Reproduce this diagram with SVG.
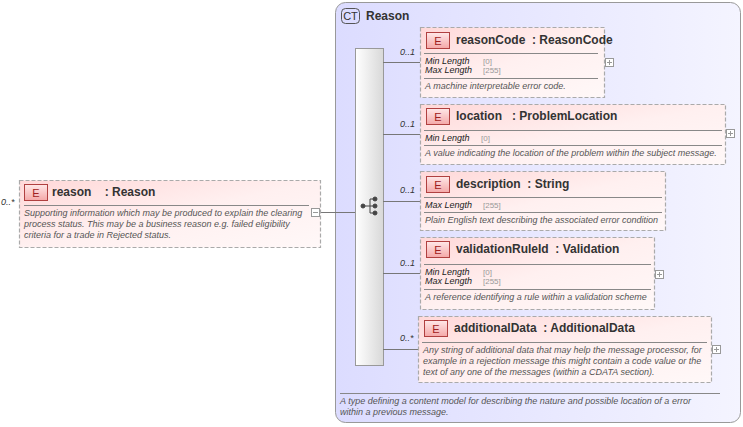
<svg xmlns="http://www.w3.org/2000/svg" width="743" height="427" viewBox="0 0 743 427">
<defs>
<linearGradient id="eg" x1="0" y1="0" x2="1" y2="1"><stop offset="0" stop-color="#ffd8d8"/><stop offset="0.5" stop-color="#fff0f0"/><stop offset="1" stop-color="#fff8f8"/></linearGradient>
<linearGradient id="ctg" x1="0" y1="0" x2="1" y2="0"><stop offset="0" stop-color="#dcdcff"/><stop offset="1" stop-color="#f4f4ff"/></linearGradient>
<linearGradient id="sg" x1="0" y1="0" x2="1" y2="0"><stop offset="0" stop-color="#ffffff"/><stop offset="1" stop-color="#d8d8d8"/></linearGradient>
<linearGradient id="bg" x1="0" y1="0" x2="0" y2="1"><stop offset="0" stop-color="#ffe8e8"/><stop offset="1" stop-color="#f4a8a8"/></linearGradient>
</defs>
<style>
text{font-family:"Liberation Sans",Arial,sans-serif;fill:#333}
.el{fill:url(#eg);stroke:#aaa;stroke-dasharray:4 2;stroke-width:1.2}
.badge{fill:url(#bg);stroke:#b04040;stroke-width:1}
.bt{font-size:11px;fill:#a02020;text-anchor:middle}
.ti{font-size:12px;font-weight:bold;fill:#333;white-space:pre}
.sep{stroke:#888;stroke-width:1}
.fl{font-size:9px;font-style:italic;fill:#222}
.fv{font-size:8px;fill:#999}
.ds{font-size:9px;font-style:italic;fill:#555}
.card{font-size:9px;font-style:italic;fill:#333}
.pl{fill:#fff;stroke:#999;stroke-width:1}
.cn{stroke:#777;stroke-width:1;fill:none}
</style>
<g id="ct-reason">
<rect x="335.5" y="2.5" width="405" height="420" rx="10" fill="url(#ctg)" stroke="#999"/>
<rect x="341.5" y="8.5" width="18" height="15" rx="4" fill="#dcdcff" stroke="#555"/>
<text x="350.5" y="20" font-size="11" text-anchor="middle" fill="#333">CT</text>
<text x="366" y="20" class="ti">Reason</text>
<line x1="340" y1="393.5" x2="720" y2="393.5" class="sep"/>
<text x="340" y="404" class="ds">A type defining a content model for describing the nature and possible location of a error</text>
<text x="340" y="415" class="ds">within a previous message.</text>
</g>
<g id="sequence">
<rect x="355.5" y="48.5" width="28" height="317" fill="url(#sg)" stroke="#999"/>
<g fill="#444" stroke="#444">
<line x1="362" y1="206" x2="370" y2="206"/><line x1="370" y1="199" x2="370" y2="213"/>
<line x1="370" y1="199" x2="375" y2="199"/><line x1="370" y1="206" x2="375" y2="206"/><line x1="370" y1="213" x2="375" y2="213"/>
<circle cx="363" cy="206" r="2"/><circle cx="375" cy="199" r="2"/><circle cx="375" cy="206" r="2"/><circle cx="375" cy="213" r="2"/>
</g>
</g>
<g id="connectors">
<line x1="320" y1="212.5" x2="355" y2="212.5" class="cn"/>
<line x1="383" y1="62.5" x2="420" y2="62.5" class="cn"/>
<line x1="383" y1="134.5" x2="420" y2="134.5" class="cn"/>
<line x1="383" y1="201.5" x2="420" y2="201.5" class="cn"/>
<line x1="383" y1="273.5" x2="420" y2="273.5" class="cn"/>
<line x1="383" y1="349.5" x2="418" y2="349.5" class="cn"/>
<text x="400" y="55" class="card">0..1</text>
<text x="400" y="127" class="card">0..1</text>
<text x="400" y="193" class="card">0..1</text>
<text x="400" y="266" class="card">0..1</text>
<text x="400" y="341" class="card">0..*</text>
<text x="1" y="205" class="card">0..*</text>
</g>
<g id="reason">
<rect x="19.5" y="180.5" width="301" height="67" class="el"/>
<rect x="24.5" y="184.5" width="23" height="16" class="badge"/><text x="36" y="197" class="bt">E</text>
<text x="52" y="196" class="ti" xml:space="preserve">reason    : Reason</text>
<line x1="24" y1="205.5" x2="309" y2="205.5" class="sep"/>
<text x="24" y="216" class="ds">Supporting information which may be produced to explain the clearing</text>
<text x="24" y="227" class="ds">process status. This may be a business reason e.g. failed eligibility</text>
<text x="24" y="238" class="ds">criteria for a trade in Rejected status.</text>
<rect x="311.5" y="208.5" width="8" height="8" class="pl"/><line x1="313" y1="212.5" x2="318" y2="212.5" stroke="#999"/>
</g>
<g id="reasonCode">
<rect x="420.5" y="27.5" width="184" height="70" class="el"/>
<rect x="426.5" y="32.5" width="23" height="16" class="badge"/><text x="438" y="45" class="bt">E</text>
<text x="456" y="44" class="ti" xml:space="preserve">reasonCode  : ReasonCode</text>
<line x1="424" y1="53.5" x2="598" y2="53.5" class="sep"/>
<text x="425" y="64" class="fl">Min Length</text><text x="483" y="64" class="fv">[0]</text>
<text x="425" y="73" class="fl">Max Length</text><text x="483" y="73" class="fv">[255]</text>
<line x1="424" y1="78.5" x2="598" y2="78.5" class="sep"/>
<text x="425" y="89" class="ds">A machine interpretable error code.</text>
<rect x="605.5" y="58.5" width="8" height="8" class="pl"/><line x1="607" y1="62.5" x2="612" y2="62.5" stroke="#999"/><line x1="609.5" y1="60" x2="609.5" y2="65" stroke="#999"/>
</g>
<g id="location">
<rect x="420.5" y="104.5" width="305" height="60" class="el"/>
<rect x="426.5" y="108.5" width="23" height="16" class="badge"/><text x="438" y="121" class="bt">E</text>
<text x="456" y="120" class="ti" xml:space="preserve">location   : ProblemLocation</text>
<line x1="424" y1="130.5" x2="722" y2="130.5" class="sep"/>
<text x="425" y="141" class="fl">Min Length</text><text x="481" y="141" class="fv">[0]</text>
<line x1="424" y1="145.5" x2="722" y2="145.5" class="sep"/>
<text x="425" y="156" class="ds">A value indicating the location of the problem within the subject message.</text>
<rect x="726.5" y="129.5" width="8" height="8" class="pl"/><line x1="728" y1="133.5" x2="733" y2="133.5" stroke="#999"/><line x1="730.5" y1="131" x2="730.5" y2="136" stroke="#999"/>
</g>
<g id="description">
<rect x="420.5" y="171.5" width="245" height="59" class="el"/>
<rect x="426.5" y="176.5" width="23" height="16" class="badge"/><text x="438" y="189" class="bt">E</text>
<text x="456" y="188" class="ti" xml:space="preserve">description  : String</text>
<line x1="424" y1="197.5" x2="662" y2="197.5" class="sep"/>
<text x="425" y="208" class="fl">Max Length</text><text x="483" y="208" class="fv">[255]</text>
<line x1="424" y1="212.5" x2="662" y2="212.5" class="sep"/>
<text x="425" y="223" class="ds">Plain English text describing the associated error condition</text>
</g>
<g id="validationRuleId">
<rect x="420.5" y="237.5" width="234" height="72" class="el"/>
<rect x="426.5" y="241.5" width="23" height="16" class="badge"/><text x="438" y="254" class="bt">E</text>
<text x="456" y="253" class="ti" xml:space="preserve">validationRuleId  : Validation</text>
<line x1="424" y1="264.5" x2="651" y2="264.5" class="sep"/>
<text x="425" y="275" class="fl">Min Length</text><text x="483" y="275" class="fv">[0]</text>
<text x="425" y="284" class="fl">Max Length</text><text x="483" y="284" class="fv">[255]</text>
<line x1="424" y1="289.5" x2="651" y2="289.5" class="sep"/>
<text x="425" y="300" class="ds">A reference identifying a rule within a validation scheme</text>
<rect x="655.5" y="270.5" width="8" height="8" class="pl"/><line x1="657" y1="274.5" x2="662" y2="274.5" stroke="#999"/><line x1="659.5" y1="272" x2="659.5" y2="277" stroke="#999"/>
</g>
<g id="additionalData">
<rect x="418.5" y="316.5" width="293" height="66" class="el"/>
<rect x="424.5" y="320.5" width="23" height="16" class="badge"/><text x="436" y="333" class="bt">E</text>
<text x="454" y="332" class="ti" xml:space="preserve">additionalData  : AdditionalData</text>
<line x1="422" y1="342.5" x2="707" y2="342.5" class="sep"/>
<text x="423" y="353" class="ds">Any string of additional data that may help the message processor, for</text>
<text x="423" y="364" class="ds">example in a rejection message this might contain a code value or the</text>
<text x="423" y="375" class="ds">text of any one of the messages (within a CDATA section).</text>
<rect x="712.5" y="345.5" width="8" height="8" class="pl"/><line x1="714" y1="349.5" x2="719" y2="349.5" stroke="#999"/><line x1="716.5" y1="347" x2="716.5" y2="352" stroke="#999"/>
</g>
</svg>
